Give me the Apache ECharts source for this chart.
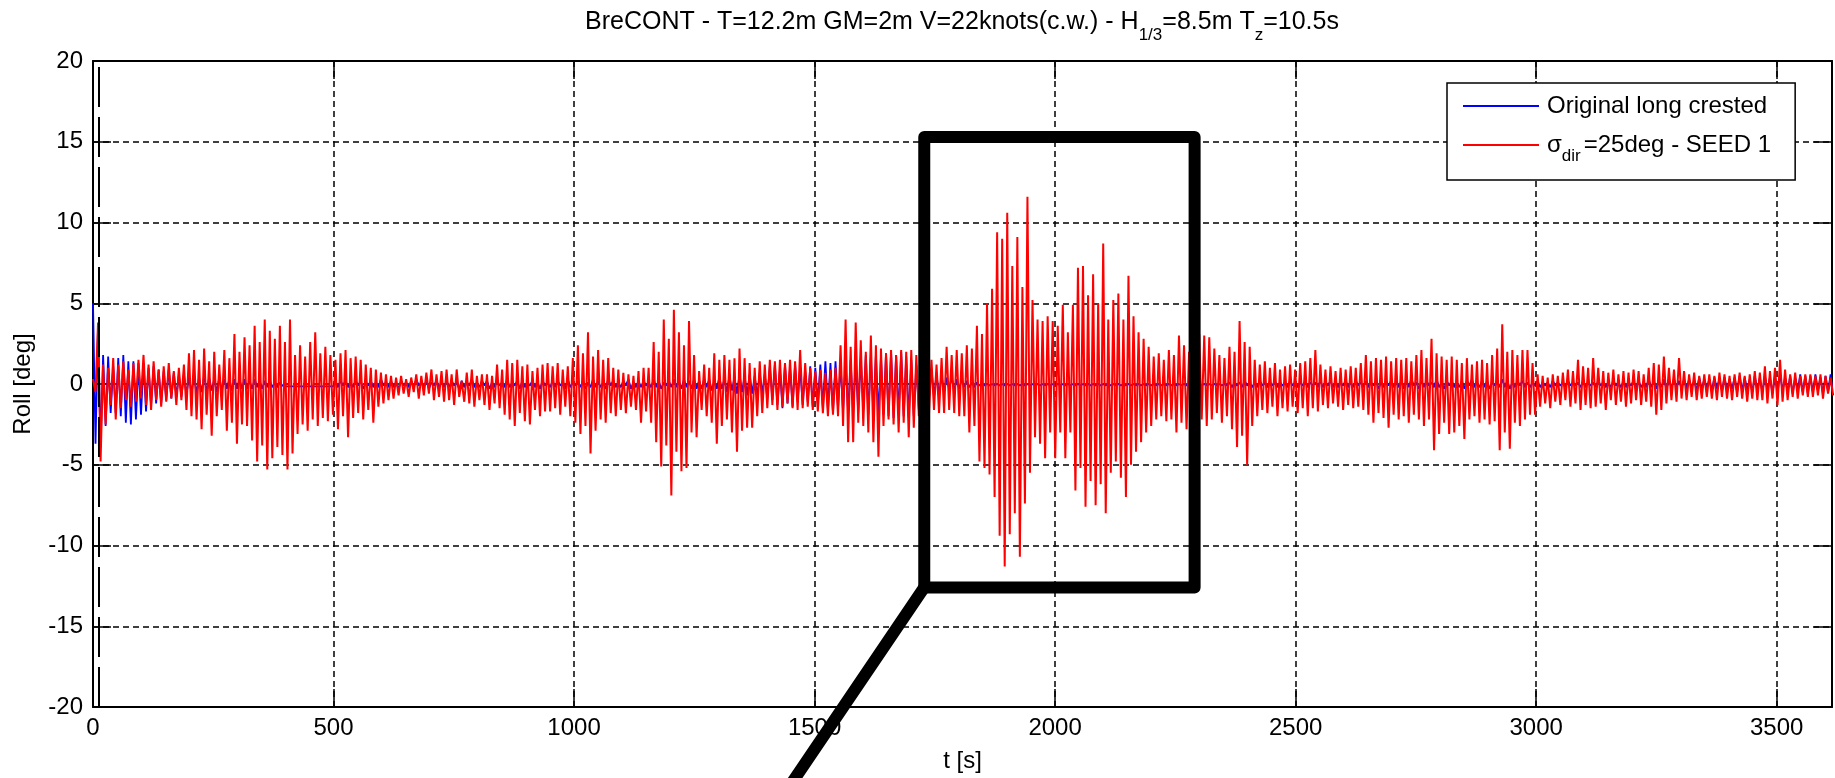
<!DOCTYPE html>
<html>
<head>
<meta charset="utf-8">
<title>BreCONT roll</title>
<script src="https://cdn.jsdelivr.net/npm/echarts@6/dist/echarts.min.js"></script>
<style>
  html, body { margin: 0; padding: 0; background: #fff; }
  #chart { width: 1835px; height: 778px; }
</style>
</head>
<body>
<div id="chart"></div>
<script>
'use strict';

// time step between samples [s]; samples alternate crest / trough
var dt = 5.25;
var xTicks = [0, 500, 1000, 1500, 2000, 2500, 3000, 3500];
var yTicks = [-20, -15, -10, -5, 0, 5, 10, 15, 20];
var tEnd = 3615;

// Original long crested, roll [deg] (one line = 105 s)
var blueRoll = [
  5.0,-3.7, 3.6,-3.9, 1.8,-2.6, 1.7,-1.8, 1.1,-1.8, 1.6,-2.0, 1.8,-2.4, 1.4,-2.5, 1.4,-2.2, 1.3,-1.9,
  1.3,-1.7, 1.0,-1.3, 1.1,-1.2, 0.9,-1.2, 0.8,-1.0, 0.9,-0.9, 0.7,-0.8, 0.6,-0.8, 0.6,-0.7, 0.5,-0.6,
  0.5,-0.6, 0.4,-0.5, 0.5,-0.5, 0.4,-0.4, 0.3,-0.5, 0.4,-0.4, 0.3,-0.3, 0.3,-0.4, 0.3,-0.3, 0.3,-0.3,
  0.3,-0.3, 0.2,-0.3, 0.3,-0.2, 0.2,-0.3, 0.2,-0.2, 0.2,-0.2, 0.1,-0.2, 0.1,-0.1, -0.15,-0.15, -0.15,-0.15,
  -0.15,-0.15, -0.15,-0.15, -0.15,-0.15, -0.15,-0.15, -0.15,-0.15, -0.15,-0.15, -0.15,-0.15, -0.15,-0.15, 0.1,-0.2, 0.2,-0.1,
  0.2,-0.2, 0.1,-0.2, 0.2,-0.1, 0.2,-0.3, 0.1,-0.1, 0.2,-0.2, 0.1,-0.2, 0.3,-0.1, 0.1,-0.2, 0.2,-0.2,
  0.1,-0.3, 0.2,-0.1, 0.1,-0.2, 0.2,-0.2, 0.3,-0.1, 0.1,-0.2, 0.2,-0.3, 0.1,-0.1, 0.2,-0.2, 0.1,-0.2,
  0.2,-0.2, 0.2,-0.1, 0.1,-0.3, 0.2,-0.2, 0.1,-0.1, 0.3,-0.2, 0.1,-0.2, 0.2,-0.1, 0.2,-0.3, 0.1,-0.2,
  0.2,-0.1, 0.1,-0.2, 0.3,-0.2, 0.1,-0.1, 0.2,-0.3, 0.2,-0.2, 0.1,-0.1, 0.2,-0.2, 0.1,-0.3, 0.2,-0.1,
  0.1,-0.2, 0.2,-0.2, 0.2,-0.1, 0.1,-0.3, 0.3,-0.2, 0.1,-0.1, 0.2,-0.2, 0.2,-0.3, 0.1,-0.2, 0.3,-0.2,
  0.2,-0.2, 0.1,-0.3, 0.3,-0.1, 0.2,-0.2, 0.1,-0.2, 0.2,-0.1, 0.3,-0.3, 0.1,-0.2, 0.2,-0.2, 0.2,-0.1,
  0.1,-0.2, 0.3,-0.2, 0.2,-0.3, 0.1,-0.1, 0.2,-0.2, 0.3,-0.2, 0.2,-0.3, 0.3,-0.2, 0.2,-0.3, 0.3,-0.3,
  0.2,-0.3, 0.3,-0.2, 0.3,-0.4, 0.2,-0.3, 0.4,-0.3, 0.3,-0.5, 0.5,-0.4, 0.4,-0.6, 0.6,-0.5, 0.5,-0.7,
  0.6,-0.6, 0.5,-0.8, 0.7,-0.6, 0.6,-0.9, 1.1,-1.0, 1.2,-1.3, 0.9,-1.5, 1.2,-1.2, 1.0,-1.4, 1.2,-1.1,
  1.0,-1.3, 0.8,-1.1, 1.1,-1.4, 1.0,-1.2, 1.2,-1.5, 1.4,-1.6, 1.3,-1.8, 1.4,-1.5, 1.2,-1.7, 1.4,-1.8,
  1.5,-1.7, 1.4,-1.8, 1.6,-1.6, 1.8,-1.9, 1.7,-1.8, 1.8,-2.0, 1.7,-1.9, 1.9,-2.0, 2.0,-2.1, 1.8,-1.9,
  2.0,-2.0, 1.7,-2.1, 1.5,-2.0, 1.2,-1.6, 1.0,-1.3, 0.8,-1.0, 0.9,-0.8, 0.6,-0.7, 0.5,-0.5, 0.4,-0.3,
  0.4,-0.4, 0.3,-0.3, 0.3,-0.2, 0.2,-0.2, 0.1,-0.2, 0.1,-0.1, 0.0,-0.1, 0.0,-0.1, 0.0,-0.1, 0.0,-0.1,
  0.0,-0.1, 0.0,-0.1, 0.0,-0.1, 0.0,-0.1, 0.0,-0.1, 0.0,-0.1, 0.0,-0.1, 0.0,-0.1, 0.0,-0.1, 0.0,-0.1,
  0.0,-0.1, 0.0,-0.1, 0.0,-0.1, 0.0,-0.1, 0.0,-0.1, 0.0,-0.1, 0.0,-0.1, 0.0,-0.1, 0.0,-0.1, 0.0,-0.1,
  0.0,-0.1, 0.0,-0.1, 0.0,-0.1, 0.0,-0.1, 0.0,-0.1, 0.0,-0.1, 0.0,-0.1, 0.0,-0.1, 0.0,-0.1, 0.0,-0.1,
  0.0,-0.1, 0.0,-0.1, 0.0,-0.1, 0.0,-0.1, 0.0,-0.1, 0.0,-0.1, 0.0,-0.1, 0.0,-0.1, 0.0,-0.1, 0.0,-0.1,
  0.0,-0.1, 0.0,-0.1, 0.0,-0.1, 0.0,-0.1, 0.0,-0.1, 0.1,-0.2, 0.1,-0.1, 0.1,-0.2, 0.2,-0.1, 0.1,-0.2,
  0.1,-0.2, 0.2,-0.1, 0.1,-0.2, 0.1,-0.1, 0.2,-0.2, 0.1,-0.1, 0.1,-0.2, 0.2,-0.1, 0.1,-0.2, 0.1,-0.1,
  0.2,-0.2, 0.1,-0.1, 0.1,-0.2, 0.2,-0.2, 0.1,-0.1, 0.2,-0.2, 0.1,-0.2, 0.1,-0.1, 0.2,-0.2, 0.1,-0.2,
  0.2,-0.1, 0.1,-0.2, 0.2,-0.2, 0.1,-0.1, 0.2,-0.3, 0.1,-0.2, 0.2,-0.1, 0.2,-0.2, 0.1,-0.2, 0.2,-0.3,
  0.2,-0.2, 0.3,-0.1, 0.1,-0.3, 0.2,-0.2, 0.2,-0.1, 0.1,-0.2, 0.3,-0.2, 0.1,-0.3, 0.2,-0.1, 0.2,-0.2,
  0.1,-0.2, 0.2,-0.3, 0.2,-0.1, 0.3,-0.2, 0.1,-0.2, 0.2,-0.2, 0.2,-0.3, 0.1,-0.1, 0.2,-0.2, 0.3,-0.2,
  0.2,-0.3, 0.1,-0.2, 0.2,-0.1, 0.2,-0.2, 0.1,-0.2, 0.1,-0.1, 0.2,-0.2, 0.1,-0.1, 0.1,-0.2, 0.2,-0.1,
  0.1,-0.1, 0.1,-0.2, 0.2,-0.1, 0.1,-0.1, 0.1,-0.2, 0.2,-0.2, 0.1,-0.1, 0.1,-0.2, 0.2,-0.1, 0.1,-0.2,
  0.1,-0.2, 0.2,-0.1, 0.1,-0.2, 0.2,-0.2, 0.1,-0.1, 0.2,-0.3, 0.2,-0.2, 0.1,-0.2, 0.3,-0.2, 0.2,-0.3,
  0.2,-0.2, 0.3,-0.3, 0.2,-0.2, 0.3,-0.2, 0.2,-0.3, 0.3,-0.3, 0.3,-0.2, 0.2,-0.4, 0.4,-0.3, 0.3,-0.3,
  0.3,-0.4, 0.4,-0.3, 0.3,-0.4, 0.4,-0.4, 0.3,-0.3, 0.4,-0.5, 0.5,-0.4, 0.4,-0.4, 0.3,-0.5, 0.5,-0.4,
  0.4,-0.5, 0.5,-0.4, 0.4,-0.6, 0.5,-0.5, 0.6,-0.4, 0.4,-0.5, 0.5,-0.6, 0.4,-0.4, 0.6,-0.5, 0.5,-0.6,
  0.5,-0.5, 0.6,-0.4, 0.4,-0.6, 0.5,-0.5, 0.6,-0.7
];

// sigma_dir = 25 deg, seed 1, roll [deg] (one line = 105 s)
var redRoll = [
  0.3,-0.5, 3.8,-4.8, 1.2,-2.5, 1.0,-1.3, 1.6,-2.2, 1.2,-1.5, 1.4,-1.0, 0.9,-1.4, 1.3,-1.1, 1.5,-0.9,
  1.8,-1.3, 1.2,-1.6, 1.4,-1.0, 0.9,-1.4, 1.1,-1.1, 1.3,-0.9, 0.8,-1.3, 1.0,-1.0, 1.2,-1.6, 1.9,-2.0,
  2.1,-2.2, 1.5,-2.8, 2.2,-1.9, 1.4,-3.2, 2.0,-2.0, 1.2,-1.6, 2.1,-2.9, 1.6,-2.4, 3.1,-3.7, 2.0,-2.5,
  2.9,-2.6, 2.4,-3.5, 3.6,-4.8, 2.6,-3.8, 4.0,-5.3, 3.3,-4.6, 2.8,-3.9, 3.6,-4.4, 2.6,-5.3, 4.0,-4.3,
  1.8,-3.1, 2.4,-2.5, 1.7,-2.9, 2.6,-2.2, 3.2,-2.6, 1.9,-2.1, 2.3,-2.3, 1.8,-1.9, 1.5,-2.8, 1.9,-2.0,
  2.1,-3.3, 1.6,-2.1, 1.7,-1.8, 1.5,-2.2, 1.2,-1.6, 1.0,-2.4, 0.9,-1.4, 0.7,-1.2, 0.6,-1.0, 0.5,-0.9,
  0.4,-0.7, 0.5,-0.6, 0.3,-0.8, 0.4,-0.5, 0.6,-0.9, 0.5,-0.7, 0.7,-0.6, 0.9,-1.0, 0.6,-0.8, 0.8,-1.1,
  0.9,-1.0, 0.6,-1.3, 0.9,-0.8, 0.2,-1.1, 0.7,-1.2, 0.9,-1.4, 0.5,-1.0, 0.6,-1.3, 0.6,-1.6, 0.5,-1.2,
  1.2,-1.5, 0.9,-1.9, 1.5,-2.2, 1.3,-2.6, 1.5,-1.8, 1.1,-2.3, 1.2,-2.5, 0.8,-1.6, 1.0,-2.0, 1.2,-1.7,
  1.3,-1.7, 1.1,-1.5, 1.3,-1.9, 0.9,-1.4, 1.1,-2.0, 1.6,-2.4, 2.4,-3.1, 1.9,-2.6, 3.2,-4.3, 1.7,-2.9,
  2.1,-2.2, 1.5,-2.4, 1.6,-1.8, 1.0,-2.0, 0.9,-1.6, 0.7,-1.8, 0.6,-1.4, 0.5,-1.6, 0.8,-2.4, 1.0,-1.7,
  1.0,-2.4, 2.6,-3.6, 2.0,-5.1, 4.0,-3.8, 2.8,-6.9, 4.6,-4.2, 3.2,-5.4, 2.4,-5.2, 3.9,-3.0, 1.8,-3.3,
  0.8,-1.6, 1.2,-2.0, 1.0,-2.4, 1.9,-3.7, 1.5,-2.6, 1.8,-2.2, 1.5,-3.0, 1.6,-4.2, 2.2,-2.9, 1.6,-2.7,
  1.3,-2.7, 1.0,-2.0, 1.4,-1.8, 1.2,-1.5, 1.5,-1.3, 1.4,-1.6, 1.5,-1.4, 1.3,-1.2, 1.5,-1.5, 1.4,-1.6,
  2.1,-1.5, 1.3,-1.4, 1.0,-1.6, 0.8,-1.7, 0.9,-1.8, 0.7,-2.0, 0.9,-1.9, 1.0,-2.0, 2.4,-2.6, 4.0,-3.6,
  2.3,-3.6, 3.8,-2.4, 2.7,-2.6, 2.0,-3.0, 3.0,-3.6, 2.4,-4.5, 2.2,-2.6, 1.9,-2.2, 2.1,-2.5, 1.8,-3.0,
  2.1,-2.4, 2.0,-3.3, 2.1,-2.7, 1.8,-2.0, 1.6,-2.2, 1.4,-1.9, 1.5,-1.6, 1.2,-1.8, 1.6,-1.8, 2.3,-1.6,
  1.8,-1.8, 2.1,-2.0, 1.9,-2.0, 2.4,-3.0, 2.2,-2.6, 3.6,-4.8, 3.1,-5.2, 5.0,-5.6, 5.9,-7.0, 9.4,-9.4,
  9.0,-11.3, 10.6,-9.3, 7.3,-8.0, 9.1,-10.7, 6.0,-7.4, 11.6,-5.5, 5.2,-3.3, 4.0,-3.7, 3.9,-4.6, 4.2,-3.0,
  3.9,-4.6, 3.6,-3.0, 4.9,-4.6, 3.2,-3.0, 4.9,-6.6, 7.2,-5.2, 7.3,-7.6, 5.5,-6.0, 6.8,-7.5, 5.0,-6.2,
  8.7,-8.0, 4.0,-5.5, 5.2,-4.8, 5.6,-5.8, 4.0,-7.0, 6.7,-5.0, 4.2,-4.2, 3.2,-3.6, 2.8,-3.0, 2.3,-2.6,
  1.7,-2.2, 1.9,-2.0, 1.5,-2.3, 2.1,-2.2, 1.8,-3.0, 3.0,-2.4, 2.4,-2.8, 2.0,-2.3, 2.6,-2.0, 3.1,-2.2,
  3.0,-2.6, 2.9,-2.2, 2.2,-1.8, 1.8,-2.4, 1.6,-2.0, 2.3,-2.8, 2.0,-3.9, 3.9,-3.2, 2.6,-5.0, 2.3,-2.6,
  1.5,-2.0, 1.2,-1.6, 1.4,-1.8, 1.0,-1.4, 1.3,-2.0, 0.9,-1.5, 1.1,-1.7, 1.2,-1.4, 0.9,-1.8, 1.3,-1.5,
  1.4,-2.0, 1.6,-1.5, 2.1,-1.7, 1.2,-1.3, 0.9,-1.5, 1.1,-1.2, 0.8,-1.4, 1.0,-1.6, 0.9,-1.3, 1.1,-1.5,
  1.0,-1.4, 1.3,-1.6, 1.8,-1.9, 1.4,-2.4, 1.6,-1.8, 1.5,-2.1, 1.7,-2.7, 1.4,-1.9, 1.6,-2.2, 1.5,-2.0,
  1.6,-2.4, 1.4,-1.9, 1.8,-2.2, 2.1,-2.6, 1.6,-2.2, 2.8,-4.1, 1.9,-3.1, 1.7,-2.4, 1.5,-3.1, 1.7,-3.0,
  1.5,-2.6, 1.3,-3.4, 1.6,-2.2, 1.2,-2.0, 1.4,-2.4, 1.5,-2.2, 1.3,-2.5, 1.8,-2.3, 2.2,-4.1, 3.7,-3.0,
  2.0,-4.0, 2.1,-2.4, 1.8,-2.6, 2.1,-2.2, 2.1,-1.9, 1.3,-1.9, 0.6,-1.4, 0.5,-1.2, 0.4,-1.5, 0.6,-1.1,
  0.5,-1.3, 0.7,-1.0, 0.9,-1.4, 0.8,-1.2, 1.5,-1.6, 1.1,-1.3, 1.0,-1.5, 1.6,-1.4, 1.0,-1.2, 0.8,-1.6,
  0.7,-1.0, 0.9,-1.3, 0.6,-1.1, 0.8,-1.4, 0.7,-1.2, 0.9,-1.0, 0.8,-1.3, 0.6,-1.1, 1.0,-1.4, 1.3,-1.9,
  1.2,-1.6, 1.7,-1.2, 1.0,-1.0, 0.9,-1.1, 1.6,-0.9, 0.8,-1.0, 0.6,-0.8, 0.7,-1.0, 0.5,-0.9, 0.6,-0.8,
  0.6,-0.9, 0.5,-1.0, 0.7,-0.8, 0.6,-0.9, 0.5,-1.0, 0.6,-0.8, 0.7,-0.9, 0.5,-1.1, 0.6,-0.9, 0.8,-1.0,
  0.7,-1.0, 1.1,-1.2, 0.8,-0.9, 1.0,-1.3, 1.5,-1.1, 0.9,-1.0, 0.6,-0.8, 0.7,-0.9, 0.5,-0.7, 0.6,-0.8,
  0.6,-0.8, 0.5,-0.7, 0.6,-0.9, 0.5,-0.6, 0.4,-0.7
];

// black callout drawn over the plot (t [s], roll [deg])
var calloutBox = [[1728, 15.3], [2290, 15.3], [2290, -12.6], [1728, -12.6], [1728, 15.3]];
var calloutLeg = [[1728, -12.6], [1430, -25.7]];
var startLineT = 12.5;

var blueName = 'Original long crested';
var redName = 'σdir=25deg - SEED 1';
var font = "'Liberation Sans', Arial, sans-serif";

function toPoints(vals) {
  return vals.map(function (v, i) { return [i * dt, v]; });
}

var myChart = echarts.init(document.getElementById('chart'));

var axisLine = { onZero: false, lineStyle: { color: '#000', width: 2 } };
var axisTick = { inside: true, length: 18, lineStyle: { color: '#000', width: 1.5 } };
var gridLine = { show: true, lineStyle: { color: '#000', type: [6, 4], width: 1.5 } };
var nameStyle = { color: '#000', fontSize: 24, fontFamily: font };
var plain = function (v) { return String(v); };

var option = {
  animation: false,
  backgroundColor: '#fff',
  title: {
    text: '{n|BreCONT - T=12.2m GM=2m V=22knots(c.w.) - H}{s|1/3}{n|=8.5m T}{s|z}{n|=10.5s}',
    left: 962,
    top: 0,
    textAlign: 'center',
    padding: 0,
    textStyle: {
      fontWeight: 'normal',
      rich: {
        n: { fontSize: 25, fontWeight: 'normal', lineHeight: 44, verticalAlign: 'middle', color: '#000', fontFamily: font },
        s: { fontSize: 17, fontWeight: 'normal', lineHeight: 6, verticalAlign: 'bottom', color: '#000', fontFamily: font }
      }
    }
  },
  legend: {
    data: [blueName, redName],
    orient: 'vertical',
    left: 1447,
    top: 83,
    padding: [11, 24, 15, 16],
    itemGap: 15,
    itemWidth: 76,
    itemHeight: 2,
    icon: 'rect',
    backgroundColor: '#fff',
    borderColor: '#000',
    borderWidth: 1.5,
    formatter: function (name) {
      if (name === blueName) return '{n|' + name + '}';
      return '{n|σ}{s|dir}{n|=25deg - SEED 1}';
    },
    textStyle: {
      rich: {
        n: { fontSize: 24, lineHeight: 40, verticalAlign: 'middle', color: '#000', fontFamily: font, padding: [0, 0, 0, 3] },
        s: { fontSize: 17, lineHeight: 8, verticalAlign: 'bottom', color: '#000', fontFamily: font }
      }
    }
  },
  grid: { left: 93, right: 3, top: 61, bottom: 70 },
  xAxis: [{
    type: 'value',
    min: xTicks[0],
    max: tEnd,
    interval: xTicks[1] - xTicks[0],
    position: 'bottom',
    name: 't [s]',
    nameLocation: 'middle',
    nameGap: 42,
    nameTextStyle: nameStyle,
    axisLine: axisLine,
    axisTick: axisTick,
    axisLabel: { color: '#000', fontSize: 24, fontFamily: font, margin: 9, showMaxLabel: false, formatter: plain },
    splitLine: gridLine
  }, {
    type: 'value',
    min: xTicks[0],
    max: tEnd,
    interval: xTicks[1] - xTicks[0],
    position: 'top',
    axisLine: axisLine,
    axisTick: axisTick,
    axisLabel: { show: false },
    splitLine: { show: false }
  }],
  yAxis: [{
    type: 'value',
    min: yTicks[0],
    max: yTicks[yTicks.length - 1],
    interval: yTicks[1] - yTicks[0],
    position: 'left',
    name: 'Roll [deg]',
    nameLocation: 'middle',
    nameGap: 58,
    nameTextStyle: nameStyle,
    axisLine: axisLine,
    axisTick: axisTick,
    axisLabel: { color: '#000', fontSize: 24, fontFamily: font, margin: 10, formatter: plain },
    splitLine: gridLine
  }, {
    type: 'value',
    min: yTicks[0],
    max: yTicks[yTicks.length - 1],
    interval: yTicks[1] - yTicks[0],
    position: 'right',
    axisLine: axisLine,
    axisTick: axisTick,
    axisLabel: { show: false },
    splitLine: { show: false }
  }],
  series: [{
    name: blueName,
    type: 'line',
    data: toPoints(blueRoll),
    symbol: 'none',
    lineStyle: { color: '#0000ff', width: 1.8 },
    itemStyle: { color: '#0000ff' },
    markLine: {
      silent: true,
      symbol: 'none',
      label: { show: false },
      lineStyle: { color: '#000', type: [40, 10], width: 2 },
      data: [{ xAxis: startLineT }]
    }
  }, {
    name: redName,
    type: 'line',
    data: toPoints(redRoll),
    symbol: 'none',
    lineStyle: { color: '#ff0000', width: 2 },
    itemStyle: { color: '#ff0000' }
  }, {
    type: 'line',
    data: calloutBox,
    symbol: 'none',
    silent: true,
    z: 5,
    lineStyle: { color: '#000', width: 12, join: 'round', cap: 'round' }
  }, {
    type: 'line',
    data: calloutLeg,
    symbol: 'none',
    silent: true,
    clip: false,
    z: 5,
    lineStyle: { color: '#000', width: 12, cap: 'round' }
  }]
};

myChart.setOption(option);

window.addEventListener('resize', function () {
  myChart.resize();
});
</script>
</body>
</html>
